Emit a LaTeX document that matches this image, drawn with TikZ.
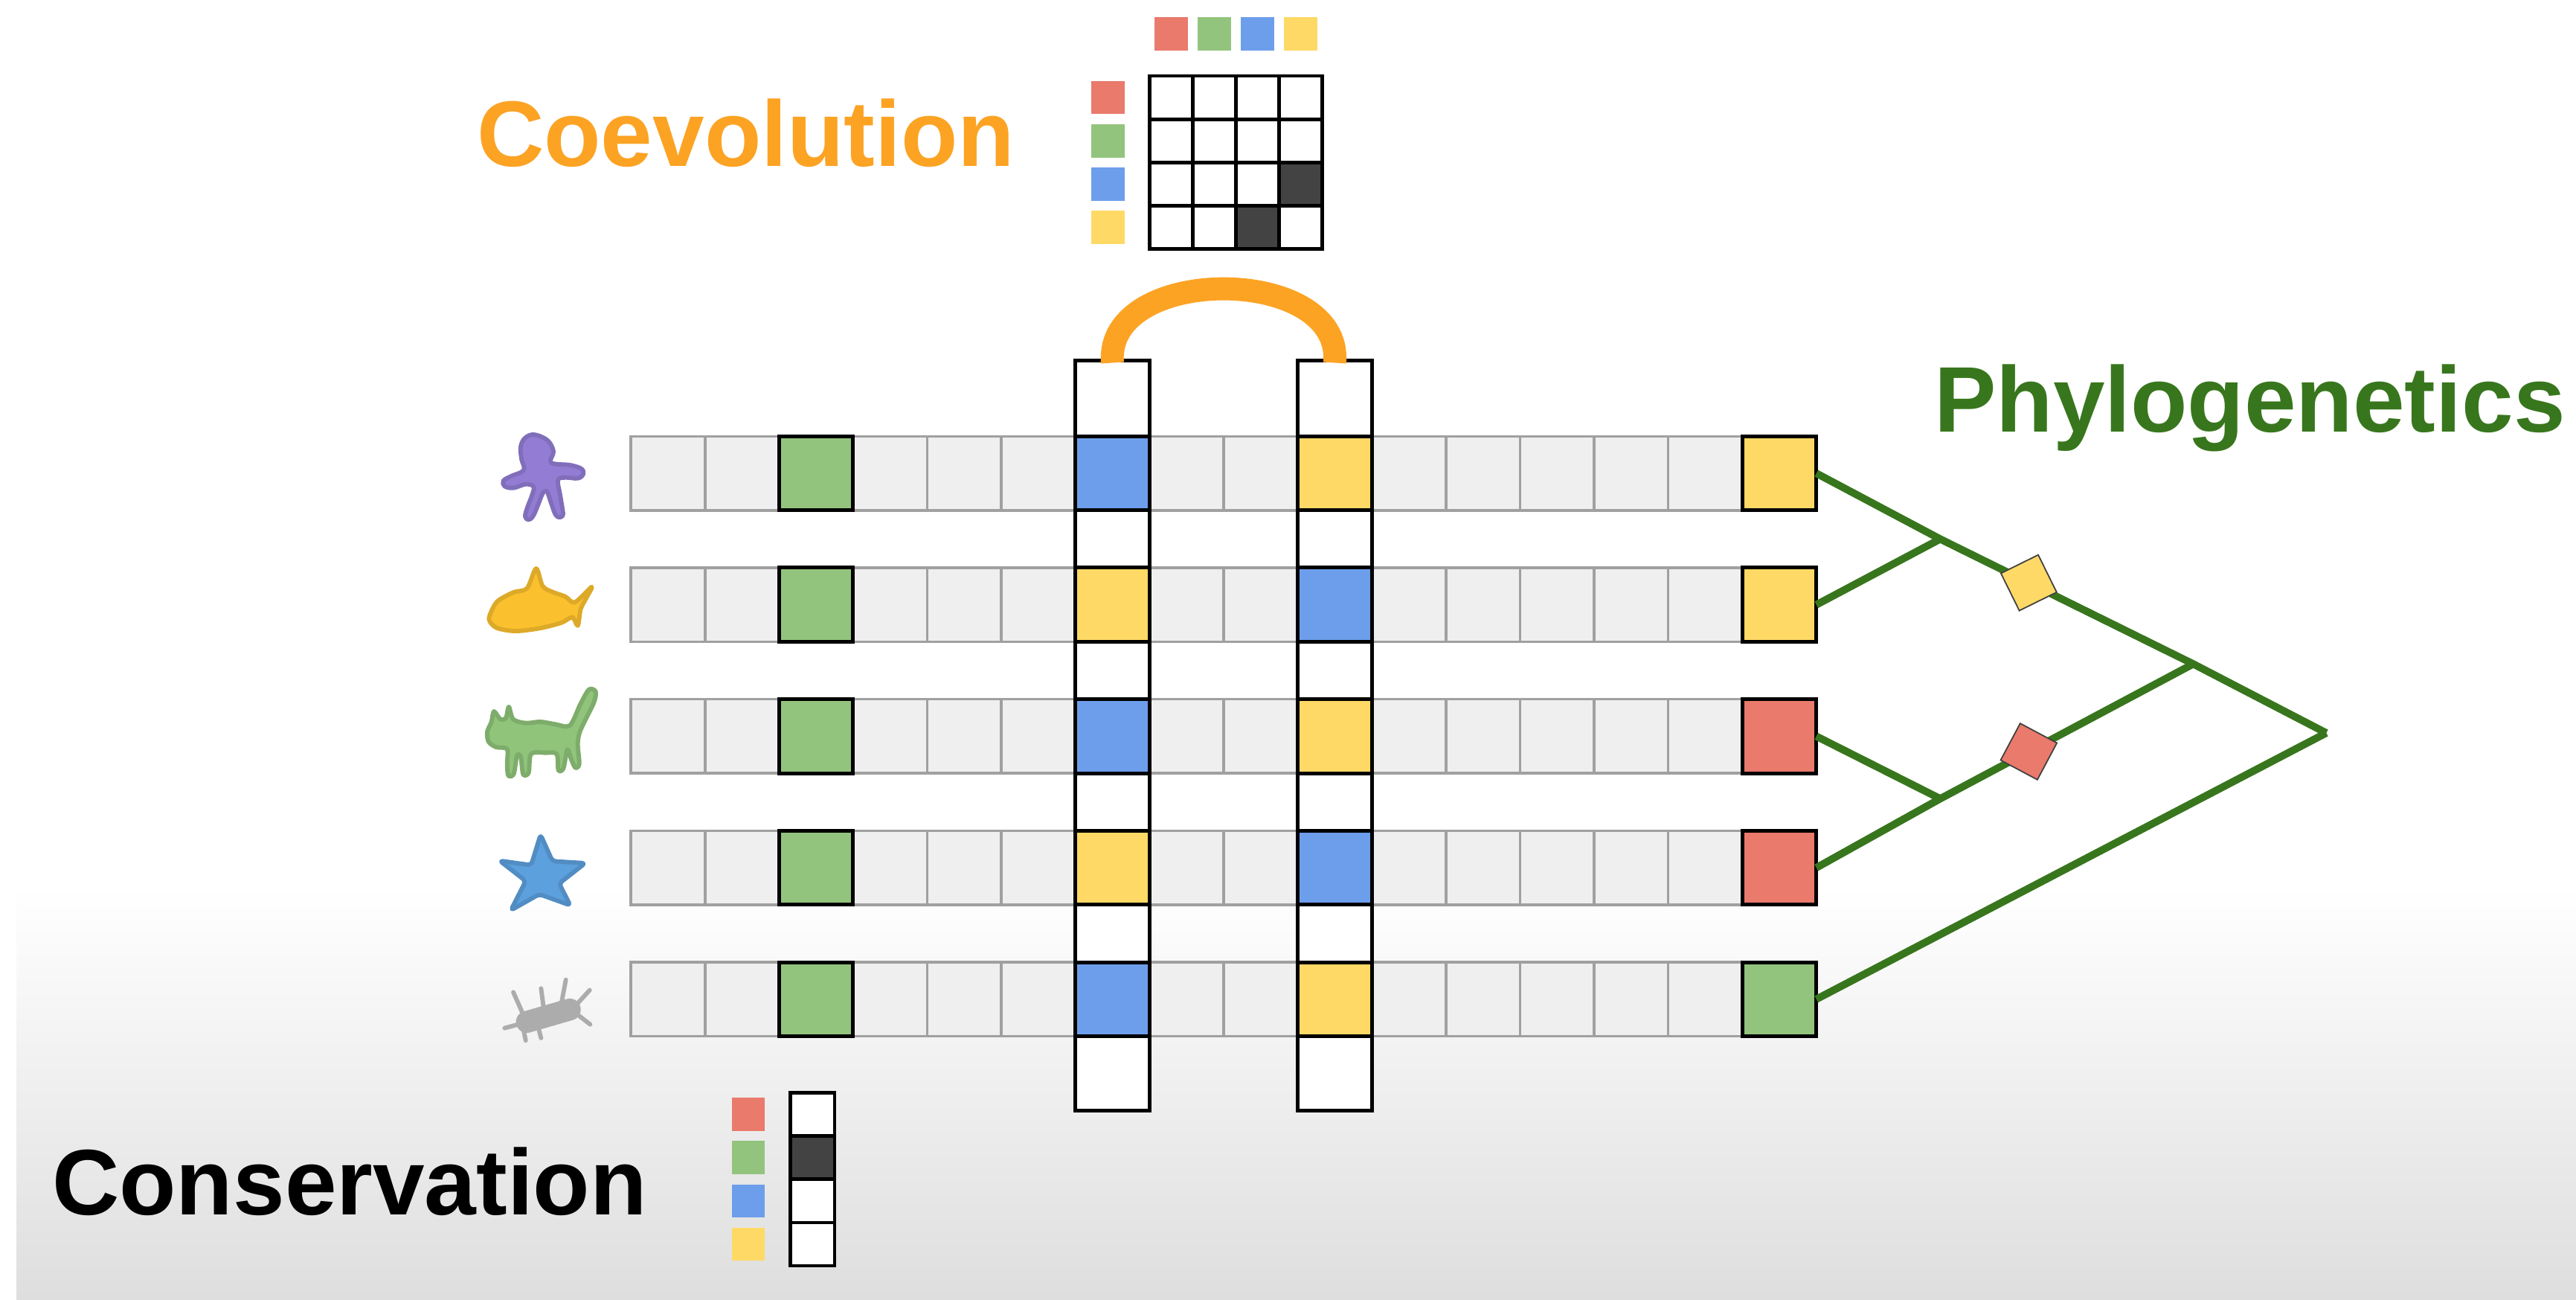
\documentclass[tikz,border=0pt]{standalone}
\usepackage{fontspec}
\setmainfont{Liberation Sans}
\usepackage{tikz}

\definecolor{cellgray}{RGB}{239,239,239}
\definecolor{rowline}{RGB}{160,160,160}
\definecolor{greencell}{RGB}{147,196,125}
\definecolor{bluecell}{RGB}{109,158,235}
\definecolor{yellowcell}{RGB}{255,217,102}
\definecolor{redcell}{RGB}{234,122,108}
\definecolor{darkcell}{RGB}{67,67,67}
\definecolor{coevo}{RGB}{252,163,36}
\definecolor{treegreen}{RGB}{56,118,29}
\definecolor{bggray}{RGB}{222,222,222}
\definecolor{octo}{RGB}{147,125,212}
\definecolor{fish}{RGB}{251,192,45}
\definecolor{cat}{RGB}{143,196,122}
\definecolor{star}{RGB}{92,160,222}
\definecolor{bact}{RGB}{172,172,172}

\begin{document}
\begin{tikzpicture}[x=0.75pt,y=0.75pt,yscale=-1,xscale=1,
  seq/.style={draw=rowline,fill=cellgray,line width=1.2pt,minimum size=33.8pt,inner sep=0pt,outer sep=0pt},
  hit/.style={seq,draw=black,line width=1.7pt,fill=#1},
  strip/.style={draw=black,fill=white,line width=1.7pt,minimum width=33.8pt,minimum height=342.3pt,inner sep=0pt,outer sep=0pt},
  grid/.style={draw=black,fill=white,line width=1.6pt,minimum size=19.7pt,inner sep=0pt,outer sep=0pt},
  swatch/.style={fill=#1,minimum size=15.2pt,inner sep=0pt,outer sep=0pt},
  mut/.style={draw=black!75,fill=#1,line width=0.6pt,minimum size=19pt,inner sep=0pt,sloped},
  branch/.style={draw=treegreen,line width=3.4pt},
  title/.style={font=\bfseries\fontsize{42.5}{50}\selectfont,anchor=base west,inner sep=0pt},
  creature/.style={line width=2pt,line join=round,fill=#1,draw=#1!88!black}]
\useasboundingbox (0,0) rectangle (1568,791);

%Shape: Rectangle (floor)
\shade[top color=white,bottom color=bggray] (10,540) rectangle (1568,791);

%Sequence rows
\foreach \r in {1,...,5}
  \foreach \i in {0,...,15}
    \node[seq] (c-\r-\i) at ({384+45.1*(\i+0.5)},{208+80*\r}) {};

%Coupled columns
\node[strip] (colA) at (677.15,447.8) {};
\node[strip] (colB) at (812.45,447.8) {};

%Coloured residues
\foreach \r/\a/\b/\z in {1/bluecell/yellowcell/yellowcell,2/yellowcell/bluecell/yellowcell,
    3/bluecell/yellowcell/redcell,4/yellowcell/bluecell/redcell,5/bluecell/yellowcell/greencell}{
  \node[hit=greencell] (g-\r) at (c-\r-2) {};
  \node[hit=\a] (a-\r) at (c-\r-6) {};
  \node[hit=\b] (b-\r) at (c-\r-9) {};
  \node[hit=\z] (leaf-\r) at (c-\r-15) {};
}

%Curve Lines
\draw[coevo,line width=10.5pt] ([yshift=0.85pt]colA.north) .. controls +(-5,-60) and +(5,-60) .. ([yshift=0.85pt]colB.north);

%Tree
\coordinate (jA) at (1181,328);
\coordinate (jB) at (1335,404);
\coordinate (jC) at (1181,486);
\coordinate (root) at (1416,446);
\draw[branch] (leaf-1.east) -- (jA) -- node[mut=yellowcell,pos=0.35] (mA) {} (jB) -- (root);
\draw[branch] (leaf-2.east) -- (jA);
\draw[branch] (leaf-3.east) -- (jC);
\draw[branch] (leaf-4.east) -- (jC) -- node[mut=redcell,pos=0.35] (mC) {} (jB);
\draw[branch] (leaf-5.east) -- (root);

%Contact map
\foreach \r in {1,...,4}
  \foreach \c in {1,...,4}
    \node[grid] (m-\r-\c) at ({686.45+26.3*\c},{33.05+26.3*\r}) {};
\node[grid,fill=darkcell] at (m-3-4) {};
\node[grid,fill=darkcell] at (m-4-3) {};
\foreach \c/\col in {1/redcell,2/greencell,3/bluecell,4/yellowcell}{
  \node[swatch=\col] (top-\c) at ({686.45+26.3*\c},20.75) {};
  \node[swatch=\col] (side-\c) at (674.3,{33.05+26.3*\c}) {};
}

%Conservation profile
\foreach \k/\col in {1/redcell,2/greencell,3/bluecell,4/yellowcell}{
  \node[grid,minimum width=20.2pt] (k-\k) at (494.5,{665+26.3*(\k-0.5)}) {};
  \node[swatch=\col] (ks-\k) at (455.5,{665+26.3*(\k-0.5)}) {};
}
\node[grid,minimum width=20.2pt,fill=darkcell] at (k-2) {};

%Labels
\node[title,text=coevo] (coevolution) at (290,101) {Coevolution};
\node[title,text=treegreen] (phylogenetics) at (1177,263) {Phylogenetics};
\node[title,text=black] (conservation) at (31.5,739) {Conservation};

%Creatures
\begin{scope}[shift={(289.8,253.6)},scale=0.15093]
\draw[creature=octo] plot[smooth cycle,tension=0.6] coordinates {(235,72) (288,95) (312,140) (302,185) (380,195) (425,210) (432,232) (410,248) (360,245) (330,255) (338,310) (348,370) (350,398) (333,405) (318,390) (300,340) (285,300) (268,310) (250,355) (230,400) (212,415) (198,402) (207,365) (225,318) (232,282) (200,272) (150,287) (115,280) (110,258) (140,240) (192,215) (183,170) (180,120) (198,85)};
\draw[creature=fish] plot[smooth cycle,tension=0.5] coordinates {(55,800) (85,745) (150,708) (205,692) (242,612) (268,682) (305,705) (360,725) (398,748) (466,686) (446,728) (422,775) (410,842) (388,808) (345,830) (260,852) (160,864) (85,852) (55,825)};
\end{scope}
\begin{scope}[shift={(289.8,407.5)},scale=0.15093]
\draw[creature=cat] plot[smooth cycle,tension=0.5] coordinates {(72,168) (98,200) (120,195) (132,150) (150,200) (200,215) (260,210) (320,220) (378,225) (420,140) (455,80) (482,88) (476,130) (442,200) (418,252) (410,300) (416,380) (400,395) (383,360) (368,322) (352,398) (332,405) (325,340) (280,335) (222,340) (212,415) (190,422) (180,352) (165,345) (152,420) (130,427) (125,380) (125,320) (80,312) (50,290) (45,250) (62,210)};
\draw[creature=star,rounded corners=1.5pt] (260,665) -- (308,772) -- (440,780) -- (335,862) -- (380,950) -- (255,905) -- (140,970) -- (200,852) -- (95,770) -- (222,788) -- cycle;
\foreach \ax/\ay/\bx/\by in {190/1390/150/1300,272/1360/262/1285,345/1340/362/1250,405/1350/458/1292,415/1395/460/1430,250/1440/262/1485,190/1445/200/1495,170/1430/115/1445}
  \draw[bact,line width=2pt,line cap=round] (\ax,\ay) -- (\bx,\by);
\draw[bact,line width=10pt,line cap=round] (205,1420) -- (378,1370);
\end{scope}

\end{tikzpicture}
\end{document}
